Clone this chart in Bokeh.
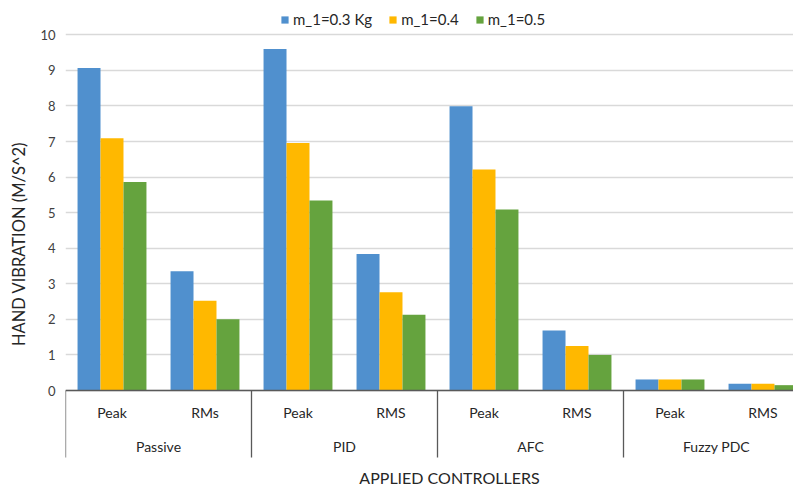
from bokeh.plotting import figure
from bokeh.models import ColumnDataSource, FixedTicker, Span, Legend, LegendItem
from bokeh.transform import dodge
from bokeh.core.properties import value
from bokeh.embed import file_html
from bokeh.resources import INLINE

# ---- data ----
controllers = ["Passive", "PID", "AFC", "Fuzzy PDC"]
measures = ["Peak", "RMs", "Peak", "RMS", "Peak", "RMS", "Peak", "RMS"]
series_names = ["m_1=0.3 Kg", "m_1=0.4", "m_1=0.5"]
m1_03 = [9.07, 3.35, 9.60, 3.84, 7.99, 1.69, 0.31, 0.19]
m1_04 = [7.09, 2.52, 6.96, 2.76, 6.21, 1.25, 0.31, 0.19]
m1_05 = [5.86, 2.00, 5.34, 2.13, 5.09, 1.00, 0.31, 0.15]
y_ticks = [0, 1, 2, 3, 4, 5, 6, 7, 8, 9, 10]

FONT = "Lato"
colors = ["#5090CE", "#FFB800", "#65A33E"]

W, H = 793, 487
left = 65
px_unit_x = 93.0
px_unit_y = 35.57
zero_px = 390

x_end = (W - left) / px_unit_x
y_top = zero_px / px_unit_y
y_bot = -(H - zero_px) / px_unit_y

p = figure(width=W, height=H, output_backend="svg", toolbar_location=None,
           x_range=(0, x_end), y_range=(y_bot, y_top), x_axis_type=None,
           min_border_left=left, min_border_right=0, min_border_top=0, min_border_bottom=0)
p.outline_line_color = None
p.background_fill_color = "white"
p.xgrid.visible = False
p.ygrid.grid_line_color = "#D9D9D9"
p.ygrid.grid_line_width = 1.3

yax = p.yaxis[0]
yax.ticker = FixedTicker(ticks=y_ticks)
yax.axis_line_color = None
yax.major_tick_line_color = None
yax.minor_tick_line_color = None
yax.major_tick_out = 0
yax.major_tick_in = 0
yax.major_label_text_font = FONT
yax.major_label_text_font_size = "13px"
yax.major_label_text_color = "#404040"
yax.major_label_standoff = 10
yax.axis_label = "HAND VIBRATION (M/S^2)"
yax.axis_label_text_font = FONT
yax.axis_label_text_font_size = "16.5px"
yax.axis_label_text_font_style = "normal"
yax.axis_label_text_color = "#262626"
yax.axis_label_standoff = 8

idx = [i + 0.5 for i in range(len(measures))]
src = ColumnDataSource(dict(x=idx, a=m1_03, b=m1_04, c=m1_05, lab=measures))

renderers = []
for col, off, color in zip(["a", "b", "c"], [-0.247, 0.0, 0.247], colors):
    r = p.vbar(x=dodge("x", off, range=p.x_range), top=col, bottom=0, width=0.247,
               source=src, fill_color=color, line_color=None)
    renderers.append(r)

p.add_layout(Span(location=0, dimension="width", line_color="#595959", line_width=1.3))

# category separators
sep_x = [2 * j for j in range(len(controllers) + 1)]
sep_len = -(457 - zero_px) / px_unit_y
p.segment(x0=sep_x, y0=[0] * len(sep_x), x1=sep_x, y1=[sep_len] * len(sep_x),
          line_color="#595959", line_width=1.3)

# sub labels
p.text(x="x", y=-(412 - zero_px) / px_unit_y, text="lab", source=src,
       text_font=value(FONT), text_font_size="14px", text_color="#262626",
       text_align="center", text_baseline="middle")
# group labels
gx = [2 * j + 1 for j in range(len(controllers))]
p.text(x=gx, y=[-(446 - zero_px) / px_unit_y] * len(gx), text=controllers,
       text_font=value(FONT), text_font_size="14px", text_color="#262626",
       text_align="center", text_baseline="middle")
# x axis title
p.text(x=[(449 - left) / px_unit_x], y=[-(477 - zero_px) / px_unit_y],
       text=["APPLIED CONTROLLERS"],
       text_font=value(FONT), text_font_size="16px", text_color="#262626",
       text_align="center", text_baseline="middle")

legend = Legend(items=[LegendItem(label=n, renderers=[r]) for n, r in zip(series_names, renderers)],
                orientation="horizontal", location=(215, H - 28),
                border_line_color=None, background_fill_alpha=0,
                label_text_font=FONT, label_text_font_size="15px", label_text_color="#262626",
                glyph_width=9, glyph_height=9, label_standoff=4, spacing=16, padding=0, margin=0)
p.add_layout(legend)

open("out.html", "w").write(file_html(p, INLINE))
